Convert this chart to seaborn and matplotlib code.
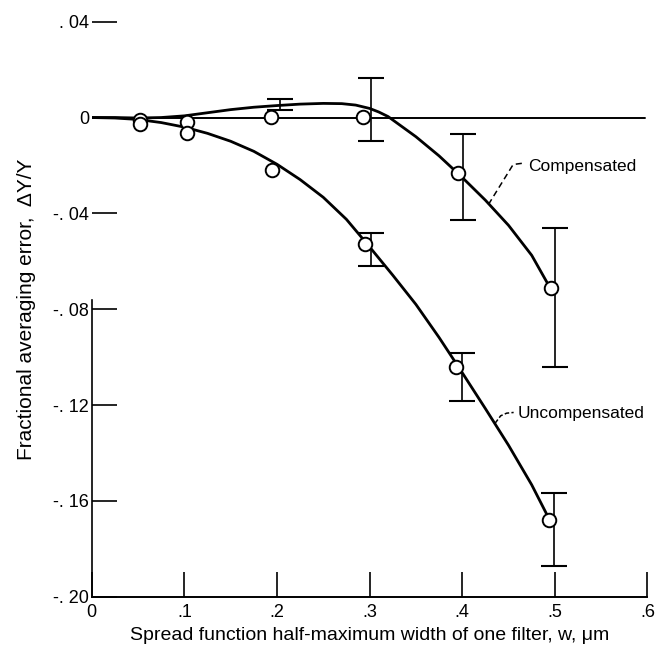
import matplotlib
matplotlib.use("Agg")
import matplotlib.pyplot as plt
import seaborn as sns
import pandas as pd

# ---- data ----
comp_curve_x = [0.0, 0.025, 0.05, 0.075, 0.10, 0.125, 0.15, 0.175, 0.20, 0.225, 0.25, 0.27, 0.285,
                0.30, 0.31, 0.32, 0.335, 0.35, 0.375, 0.40, 0.425, 0.45, 0.475, 0.495]
comp_curve_y = [0.0, 0.0, -0.0002, 0.0000, 0.0007, 0.0020, 0.0033, 0.0043, 0.0050, 0.0056, 0.0059, 0.0058,
                0.0052, 0.0038, 0.0023, 0.0004, -0.0038, -0.0080, -0.0160, -0.0250, -0.0345, -0.0450,
                -0.0575, -0.0712]

unc_curve_x = [0.0, 0.025, 0.05, 0.075, 0.10, 0.125, 0.15, 0.175, 0.20, 0.225, 0.25, 0.275, 0.30,
               0.325, 0.35, 0.375, 0.40, 0.425, 0.45, 0.475, 0.494]
unc_curve_y = [0.0, -0.0002, -0.0008, -0.0021, -0.0040, -0.0066, -0.0099, -0.0141, -0.0195, -0.0259,
               -0.0333, -0.0425, -0.0540, -0.0658, -0.0780, -0.0918, -0.1065, -0.1215, -0.1368,
               -0.1533, -0.1677]

comp_pts_x = [0.052, 0.103, 0.194, 0.293, 0.395, 0.496]
comp_pts_y = [-0.0010, -0.0017, 0.0001, 0.0004, -0.0232, -0.0710]
unc_pts_x = [0.052, 0.103, 0.195, 0.295, 0.393, 0.494]
unc_pts_y = [-0.0026, -0.0065, -0.0221, -0.0527, -0.1040, -0.1680]

comp_err_x = [0.203, 0.301, 0.401, 0.500]
comp_err_lo = [0.0030, -0.0097, -0.0426, -0.1043]
comp_err_hi = [0.0076, 0.0165, -0.0070, -0.0461]
unc_err_x = [0.302, 0.400, 0.499]
unc_err_lo = [-0.0621, -0.1182, -0.1870]
unc_err_hi = [-0.0482, -0.0981, -0.1567]

x_ticks = [0, 0.1, 0.2, 0.3, 0.4, 0.5, 0.6]
x_tick_labels = ["0", ".1", ".2", ".3", ".4", ".5", ".6"]
y_ticks = [0.04, 0.0, -0.04, -0.08, -0.12, -0.16, -0.20]
y_tick_labels = [". 04", "0", "-. 04", "-. 08", "-. 12", "-. 16", "-. 20"]

x_label = "Spread function half-maximum width of one filter, w, μm"
y_label = "Fractional averaging error,  ΔY/Y"
comp_label = "Compensated"
unc_label = "Uncompensated"

# ---- styling ----
sns.set_theme(style="white")
plt.rcParams["font.family"] = ["Liberation Sans", "DejaVu Sans"]

fig = plt.figure(figsize=(6.63, 6.48), dpi=100)
ax = fig.add_axes([0.1383, 0.0792, 0.8383, 0.8873])

df_comp = pd.DataFrame({"x": comp_curve_x, "y": comp_curve_y})
df_unc = pd.DataFrame({"x": unc_curve_x, "y": unc_curve_y})
sns.lineplot(data=df_comp, x="x", y="y", ax=ax, color="black", lw=2.0, sort=False, estimator=None, zorder=3)
sns.lineplot(data=df_unc, x="x", y="y", ax=ax, color="black", lw=2.0, sort=False, estimator=None, zorder=3)

ax.axhline(0, xmin=0, xmax=0.995, color="black", lw=1.4, zorder=2)

# error bars
for ex, lo, hi in [(comp_err_x, comp_err_lo, comp_err_hi), (unc_err_x, unc_err_lo, unc_err_hi)]:
    mid = [(a + b) / 2 for a, b in zip(lo, hi)]
    half = [(b - a) / 2 for a, b in zip(lo, hi)]
    ax.errorbar(ex, mid, yerr=half, fmt="none", ecolor="black", elinewidth=1.2,
                capsize=9.5, capthick=1.5, zorder=4)

pts = pd.DataFrame({"x": comp_pts_x + unc_pts_x, "y": comp_pts_y + unc_pts_y})
sns.scatterplot(data=pts, x="x", y="y", ax=ax, marker="o", s=95, facecolor="white",
                edgecolor="black", linewidth=1.4, zorder=5)

# labels with leaders
ax.plot([0.4283, 0.455, 0.4647], [-0.0363, -0.0196, -0.0191], color="black", lw=1.1,
        dashes=(4, 2.5), zorder=3)
ax.text(0.471, -0.0206, comp_label, fontsize=12.5, va="center", ha="left", color="black")
ax.plot([0.4355, 0.4415, 0.448, 0.4555], [-0.1276, -0.1245, -0.1234, -0.1231], color="black", lw=1.1,
        dashes=(3, 1.5), zorder=3)
ax.text(0.4600, -0.1234, unc_label, fontsize=12.5, va="center", ha="left", color="black")

ax.set_xlim(0, 0.6)
ax.set_ylim(-0.2, 0.04)
ax.set_xticks(x_ticks)
ax.set_xticklabels(x_tick_labels)
ax.set_yticks(y_ticks)
ax.set_yticklabels(y_tick_labels)
ax.tick_params(axis="both", which="major", direction="in", length=18, width=1.2, color="black",
               labelsize=13, labelcolor="black", left=True, bottom=True, top=False, right=False)
ax.tick_params(axis="y", pad=2)
ax.tick_params(axis="x", pad=5)

for s in ["top", "right"]:
    ax.spines[s].set_visible(False)
ax.spines["left"].set_bounds(-0.2, -0.076)
ax.spines["left"].set_color("black")
ax.spines["left"].set_linewidth(1.2)
ax.spines["bottom"].set_color("black")
ax.spines["bottom"].set_linewidth(1.4)

ax.set_xlabel(x_label, fontsize=14, color="black")
ax.set_ylabel(y_label, fontsize=15, color="black")
ax.xaxis.set_label_coords(0.5, -0.052)
ax.yaxis.set_label_coords(-0.100, 0.5)

fig.savefig("out.png", dpi=100)
